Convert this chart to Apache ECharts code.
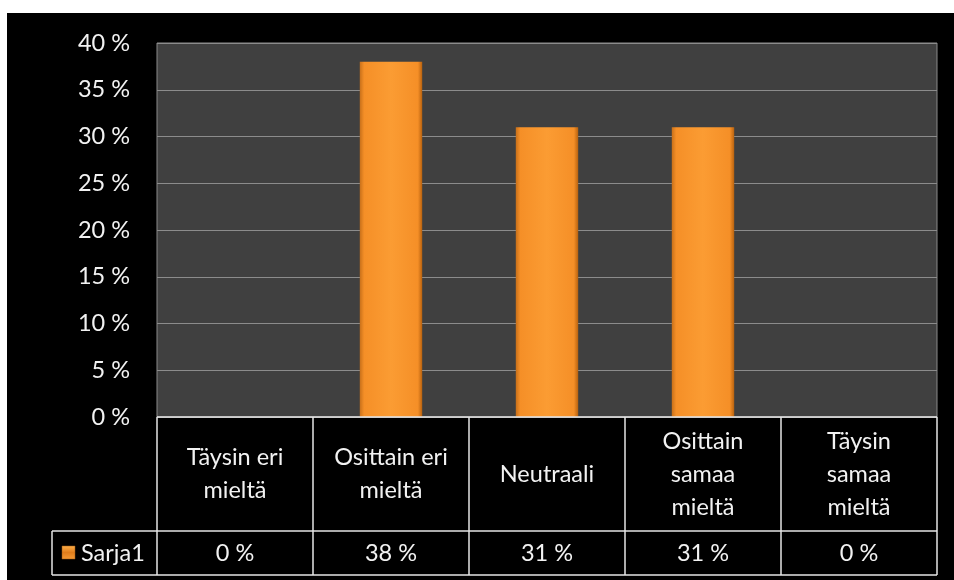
<!DOCTYPE html>
<html>
<head>
<meta charset="utf-8">
<script src="https://cdn.jsdelivr.net/npm/echarts@6/dist/echarts.min.js"></script>
<style>
html,body{margin:0;padding:0;background:#ffffff;width:954px;height:580px;overflow:hidden;}
#c{position:absolute;left:7px;top:13px;width:947px;height:567px;background:#000;}
</style>
</head>
<body>
<div id="c"></div>
<script>
const categories = ['Täysin eri\nmieltä', 'Osittain eri\nmieltä', 'Neutraali', 'Osittain\nsamaa\nmieltä', 'Täysin\nsamaa\nmieltä'];
const seriesName = 'Sarja1';
const values = [0, 38, 31, 31, 0];
const valueLabels = ['0 %', '38 %', '31 %', '31 %', '0 %'];
const yMin = 0, yMax = 40, yStep = 5;

const FONT = 'Lato, "Open Sans", sans-serif';
const FS = 23.5;
const chart = echarts.init(document.getElementById('c'), null, {renderer: 'canvas'});

const barColor = new echarts.graphic.LinearGradient(0, 0, 1, 0, [
  {offset: 0, color: '#C8701A'},
  {offset: 0.07, color: '#F58F27'},
  {offset: 0.5, color: '#FB9C33'},
  {offset: 0.93, color: '#F58F27'},
  {offset: 1, color: '#B8620F'}
]);

chart.setOption({
  backgroundColor: '#000',
  animation: false,
  grid: {left: 150, right: 17, top: 30, bottom: 163, show: true, backgroundColor: '#404040', borderColor: '#8a8a8a', borderWidth: 1},
  xAxis: {
    type: 'category', data: categories,
    axisLine: {show: false}, axisTick: {show: false}, axisLabel: {show: false}, splitLine: {show: false}
  },
  yAxis: {
    type: 'value', min: yMin, max: yMax, interval: yStep,
    axisLine: {show: false}, axisTick: {show: false},
    axisLabel: {formatter: v => v + ' %', color: '#f2f2f2', fontSize: FS, fontFamily: FONT, margin: 27},
    splitLine: {lineStyle: {color: '#8c8c8c', width: 1}}
  },
  series: [{
    name: seriesName, type: 'bar', data: values, barWidth: '40%',
    itemStyle: {color: barColor}
  }]
});

function buildTable() {
  const p0 = chart.convertToPixel({xAxisIndex: 0}, 0);
  const p1 = chart.convertToPixel({xAxisIndex: 0}, 1);
  const bw = p1 - p0;
  const left = p0 - bw / 2;
  const n = categories.length;
  const right = left + bw * n;
  const yAxis0 = chart.convertToPixel({yAxisIndex: 0}, yMin);
  const rowH1 = 114, rowH2 = 44;
  const yMid = yAxis0 + rowH1;
  const yBot = yMid + rowH2;
  const legendLeft = 45;
  const lineStyle = {stroke: '#e6e6e6', lineWidth: 1.5};
  const els = [];
  const L = (x1, y1, x2, y2) => els.push({type: 'line', shape: {x1, y1, x2, y2}, style: lineStyle, z: 10});
  L(left, yAxis0, right, yAxis0);
  L(legendLeft, yMid, right, yMid);
  L(legendLeft, yBot, right, yBot);
  L(legendLeft, yMid, legendLeft, yBot);
  for (let i = 0; i <= n; i++) {
    const x = left + bw * i;
    L(x, yAxis0, x, yBot);
  }
  for (let i = 0; i < n; i++) {
    const cx = left + bw * (i + 0.5);
    els.push({type: 'text', x: cx, y: yAxis0 + rowH1 / 2, z: 11,
      style: {text: categories[i], fill: '#f2f2f2', font: FS + 'px ' + FONT, align: 'center', verticalAlign: 'middle', lineHeight: 33}});
    els.push({type: 'text', x: cx, y: yMid + rowH2 / 2, z: 11,
      style: {text: valueLabels[i], fill: '#f2f2f2', font: FS + 'px ' + FONT, align: 'center', verticalAlign: 'middle'}});
  }
  els.push({type: 'rect', shape: {x: legendLeft + 10, y: yMid + 15, width: 13, height: 13}, z: 11,
    style: {fill: new echarts.graphic.LinearGradient(0, 0, 0, 1, [
      {offset: 0, color: '#FFB04A'}, {offset: 0.5, color: '#E07D1C'}, {offset: 1, color: '#F59A35'}]), stroke: '#9a5510', lineWidth: 0.5}});
  els.push({type: 'text', x: legendLeft + 29, y: yMid + rowH2 / 2, z: 11,
    style: {text: seriesName, fill: '#f2f2f2', font: FS + 'px ' + FONT, align: 'left', verticalAlign: 'middle'}});
  chart.setOption({graphic: els});
}
buildTable();
</script>
</body>
</html>
